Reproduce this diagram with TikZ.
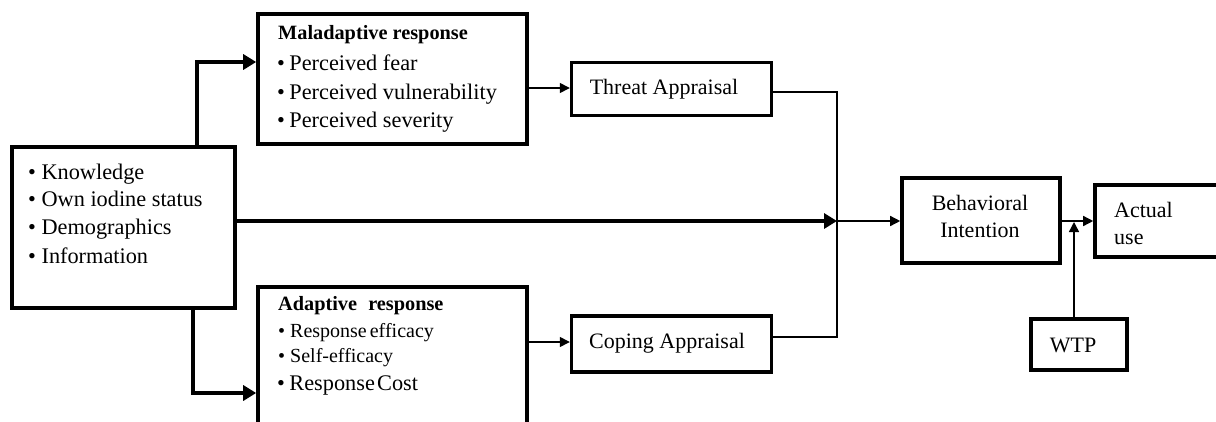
\documentclass[tikz,border=0pt]{standalone}
\usepackage{fontspec}
\setmainfont{Liberation Serif}
\usetikzlibrary{arrows.meta}

\begin{document}
\begin{tikzpicture}[x=1pt,y=-1pt,
  box/.style={draw=black,line width=3.6pt,fill=white,inner sep=0pt},
  txt/.style={inner sep=0pt,anchor=mid west,font=\fontsize{22.3}{27}\selectfont},
  ctxt/.style={inner sep=0pt,align=center,font=\fontsize{22}{27}\selectfont},
  ltxt/.style={inner sep=0pt,align=left,anchor=west,font=\fontsize{22}{27}\selectfont},
  head/.style={inner sep=0pt,anchor=mid west,font=\fontsize{20.3}{24}\selectfont\bfseries},
  small/.style={inner sep=0pt,anchor=mid west,font=\fontsize{20}{24}\selectfont},
  boldarrow/.style={line width=4pt,-{Triangle[length=13pt,width=15pt]}},
  thinarrow/.style={line width=1.4pt,-{Triangle[length=10pt,width=10pt]}},
  thinline/.style={line width=1.4pt}]

\useasboundingbox (0,0) rectangle (1216,421);
\clip (0,0) rectangle (1216,421);

% boxes (centre, width, height)
\node[box,minimum width=223pt,minimum height=161pt] (K) at (123.5,227.5) {};
\node[box,minimum width=269pt,minimum height=130pt] (M) at (392.5,79) {};
\node[box,minimum width=269pt,minimum height=173pt] (A) at (392.5,373.5) {};
\node[box,line width=3.4pt,minimum width=200pt,minimum height=53pt] (T) at (671.5,89) {};
\node[box,line width=3.4pt,minimum width=200pt,minimum height=56pt] (C) at (671.5,344) {};
\node[box,minimum width=158pt,minimum height=85pt] (B) at (981,220.5) {};
\node[box,minimum width=170pt,minimum height=72pt] (U) at (1180,221) {};
\node[box,line width=3.4pt,minimum width=96pt,minimum height=51pt] (W) at (1079,344.5) {};

% knowledge box
\node[txt] (k1) at (28,177) {\textbullet\hspace{0.25em}Knowledge};
\node[txt] (k2) at (28,204) {\textbullet\hspace{0.25em}Own iodine status};
\node[txt] (k3) at (28,232) {\textbullet\hspace{0.25em}Demographics};
\node[txt] (k4) at (28,261) {\textbullet\hspace{0.25em}Information};

% maladaptive box
\node[head] (m0) at (278,37) {Maladaptive response};
\node[txt] (m1) at (277,68) {\textbullet\hspace{0.2em}Perceived fear};
\node[txt] (m2) at (277,97) {\textbullet\hspace{0.2em}Perceived vulnerability};
\node[txt] (m3) at (277,125) {\textbullet\hspace{0.2em}Perceived severity};

% adaptive box
\node[head] (a0) at (278,308) {Adaptive\hspace{0.3em} response};
\node[small] (a1) at (278,335) {\textbullet\hspace{0.25em}Response\hspace{-0.1em} efficacy};
\node[small] (a2) at (278,360) {\textbullet\hspace{0.25em}Self-efficacy};
\node[txt] (a3) at (277,388) {\textbullet\hspace{0.2em}Response\hspace{-0.15em} Cost};

% appraisal and outcome labels
\node[ctxt] (Tt) at (664,89) {Threat Appraisal};
\node[ctxt] (Ct) at (667,343) {Coping Appraisal};
\node[ctxt] (Bt) at (980,216.5) {Behavioral\\Intention};
\node[ltxt] (Ut) at (1114,223.5) {Actual\\use};
\node[ctxt] (Wt) at (1073,345) {WTP};

% connectors
\coordinate (J) at (837,221);
\coordinate (WT) at (1074,222);

\draw[boldarrow] (K.north -| 197,0) |- (M.west |- 0,62);
\draw[boldarrow] (K.south -| 193,0) |- (A.west |- 0,393);
\draw[boldarrow] (K.east |- J) -- (J);

\draw[thinarrow] (M.east |- 0,88) -- (T.west |- 0,88);
\draw[thinarrow] (A.east |- 0,342) -- (C.west |- 0,342);

\draw[thinline] (T.east |- 0,92) -| (J);
\draw[thinline] (C.east |- 0,337) -| (J);
\draw[thinarrow] (J) -- (B.west |- J);
\draw[thinarrow] (B.east |- J) -- (U.west |- J);
\draw[thinarrow] (W.north -| WT) -- (WT);

\end{tikzpicture}
\end{document}
